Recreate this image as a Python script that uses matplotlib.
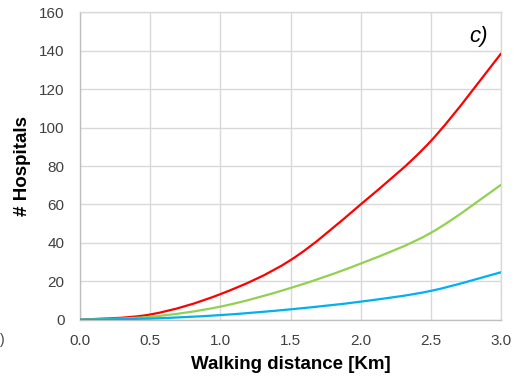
import matplotlib
matplotlib.use("Agg")
import matplotlib.pyplot as plt
from matplotlib.path import Path
from matplotlib.patches import PathPatch

plt.rcParams['font.family'] = ['Liberation Sans', 'DejaVu Sans']

distance = [0.0, 0.5, 1.0, 1.5, 2.0, 2.5, 3.0]
red = [0.0, 2.7, 13.3, 31.0, 60.0, 93.0, 138.5]
green = [0.0, 1.5, 6.8, 16.5, 29.2, 45.2, 70.2]
blue = [0.0, 0.6, 2.4, 5.4, 9.4, 15.0, 24.7]

xticks = [0.0, 0.5, 1.0, 1.5, 2.0, 2.5, 3.0]
yticks = [0, 20, 40, 60, 80, 100, 120, 140, 160]


def smooth_path(xs, ys):
    # Excel-like smoothed line: Catmull-Rom segments drawn as cubic Beziers
    verts = [(xs[0], ys[0])]
    codes = [Path.MOVETO]
    n = len(xs)
    for i in range(n - 1):
        x0, y0 = (xs[i - 1], ys[i - 1]) if i > 0 else (xs[i], ys[i])
        x1, y1 = xs[i], ys[i]
        x2, y2 = xs[i + 1], ys[i + 1]
        x3, y3 = (xs[i + 2], ys[i + 2]) if i + 2 < n else (xs[i + 1], ys[i + 1])
        c1 = (x1 + (x2 - x0) / 6, y1 + (y2 - y0) / 6)
        c2 = (x2 - (x3 - x1) / 6, y2 - (y3 - y1) / 6)
        verts += [c1, c2, (x2, y2)]
        codes += [Path.CURVE4] * 3
    return Path(verts, codes)


W, H = 517, 382
fig = plt.figure(figsize=(W / 100, H / 100), dpi=100)
ax = fig.add_axes([80 / W, 1 - 319.7 / H, (501 - 80) / W, (319.7 - 12.3) / H])

for ys, col in [(red, '#ff0000'), (green, '#92d050'), (blue, '#00b0f0')]:
    ax.add_patch(PathPatch(smooth_path(distance, ys), facecolor='none',
                           edgecolor=col, lw=1.6, capstyle='round', zorder=3))

ax.set_xlim(0, 3.0)
ax.set_ylim(0, 160)
ax.set_xticks(xticks)
ax.set_xticklabels([f"{v:.1f}" for v in xticks])
ax.set_yticks(yticks)
ax.grid(True, color='#d9d9d9', lw=1.0)
ax.set_axisbelow(True)
for s in ax.spines.values():
    s.set_color('#d9d9d9')
    s.set_linewidth(1.0)
ax.spines['left'].set_color('#bfbfbf')
ax.spines['bottom'].set_color('#bfbfbf')
ax.tick_params(length=0, labelsize=11, colors='#404040', pad=11)
ax.tick_params(axis='x', pad=10)

ax.set_xlabel('Walking distance [Km]', fontsize=13.5, fontweight='bold', color='black', labelpad=6)
ax.set_ylabel('# Hospitals', fontsize=13.5, fontweight='bold', color='black', labelpad=6)
ax.text(0.969, 0.92, 'c)', transform=ax.transAxes, ha='right', va='center',
        fontsize=16, style='italic', color='black')

fig.text(0, 1 - 340 / H, ')', ha='left', va='center', fontsize=10, color='#404040')

fig.savefig('out.png', dpi=100)
